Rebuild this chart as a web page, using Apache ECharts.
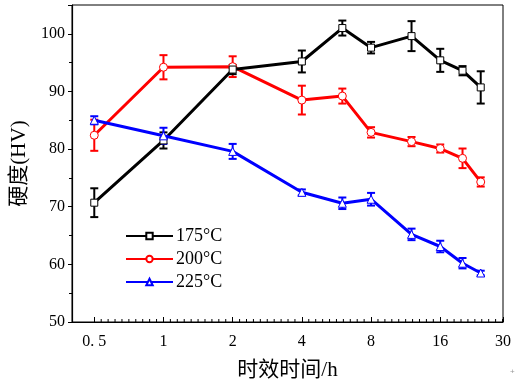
<!DOCTYPE html>
<html><head><meta charset="utf-8">
<script src="https://cdn.jsdelivr.net/npm/echarts@6/dist/echarts.min.js"></script>
<style>html,body{margin:0;padding:0;background:#fff}#c{width:518px;height:379px}</style>
</head><body><div id="c"></div>
<script>
var times = [0.5, 1, 2, 4, 6, 8, 12, 16, 20, 24];
var seriesNames = ['175°C', '200°C', '225°C'];
var hv175 = [70.7, 81.5, 93.8, 95.2, 101.0, 97.6, 99.6, 95.4, 93.6, 90.7];
var err175 = [2.5, 1.4, 0.8, 1.9, 1.3, 1.0, 2.6, 2.0, 0.8, 2.8];
var hv200 = [82.4, 94.2, 94.3, 88.5, 89.2, 82.9, 81.3, 80.1, 78.4, 74.3];
var err200 = [2.7, 2.1, 1.8, 2.5, 1.3, 0.9, 0.8, 0.7, 1.7, 0.8];
var hv225 = [85.0, 82.3, 79.6, 72.5, 70.6, 71.3, 65.2, 63.1, 60.2, 58.5];
var err225 = [0.7, 1.4, 1.3, 0.5, 1.0, 1.1, 1.0, 1.0, 0.9, 0.4];
var yTicks = [50, 60, 70, 80, 90, 100];
var xMajorTicks = [0.5, 1, 2, 4, 8, 16];
var xTickLabels = {0.5: '0. 5', 1: '1', 2: '2', 4: '4', 8: '8', 16: '16', 30: '30'};

var colors = ['#000000', '#ff0000', '#0000ff'];
var symbols = ['rect', 'circle', 'triangle'];
var vals = [hv175, hv200, hv225];
var errs = [err175, err200, err225];
var zs = [3, 2, 4];
var FONT = '"Liberation Serif", "Noto Sans CJK SC", serif';

function pairs(v) { return times.map(function (t, i) { return [t, v[i]]; }); }
function errData(v, e) { return times.map(function (t, i) { return [t, v[i] - e[i], v[i] + e[i]]; }); }

// minor tick positions: 10 equal log-steps between successive doublings (axis decoration)
var minorTickVals = [];
xMajorTicks.forEach(function (t) {
  for (var j = 1; j < 10; j++) { var v = t * Math.pow(2, j / 10); if (v < 30) minorTickVals.push([v, 50]); }
});

var series = [];
for (var k = 0; k < 3; k++) {
  (function (k) {
    series.push({
      type: 'custom', name: seriesNames[k] + ' err', z: zs[k],
      data: errData(vals[k], errs[k]),
      renderItem: function (params, api) {
        var x = api.value(0), lo = api.value(1), hi = api.value(2);
        var p1 = api.coord([x, lo]), p2 = api.coord([x, hi]);
        var w = 4;
        var st = { stroke: colors[k], lineWidth: 2 };
        return { type: 'group', children: [
          { type: 'line', shape: { x1: p1[0], y1: p1[1], x2: p2[0], y2: p2[1] }, style: st },
          { type: 'line', shape: { x1: p1[0] - w, y1: p1[1], x2: p1[0] + w, y2: p1[1] }, style: st },
          { type: 'line', shape: { x1: p2[0] - w, y1: p2[1], x2: p2[0] + w, y2: p2[1] }, style: st }
        ]};
      },
      encode: { x: 0, y: [1, 2] }
    });
    series.push({
      type: 'line', name: seriesNames[k], z: zs[k] + 1,
      data: pairs(vals[k]),
      symbol: symbols[k], symbolSize: k === 0 ? 7 : 8,
      showAllSymbol: true,
      lineStyle: { color: colors[k], width: 3 },
      itemStyle: { color: '#ffffff', borderColor: colors[k], borderWidth: 1 },
      emphasis: { disabled: true },
      animation: false
    });
  })(k);
}
series.push({
  type: 'custom', name: 'minorTicks', silent: true, z: 1,
  data: minorTickVals,
  renderItem: function (params, api) {
    var p = api.coord([api.value(0), api.value(1)]);
    return { type: 'line', shape: { x1: p[0], y1: p[1], x2: p[0], y2: p[1] - 3 }, style: { stroke: '#000', lineWidth: 1 } };
  },
  encode: { x: 0, y: 1 }
});

var chart = echarts.init(document.getElementById('c'), null, { renderer: 'canvas' });
chart.setOption({
  animation: false,
  backgroundColor: '#fff',
  color: colors,
  grid: { left: 72, right: 15, top: 5, bottom: 57, show: true, borderColor: '#000', borderWidth: 1, backgroundColor: 'transparent', containLabel: false, outerBoundsMode: 'none' },
  legend: {
    data: seriesNames,
    orient: 'vertical', left: 120, top: 222, itemWidth: 47, itemHeight: 8, itemGap: 5,
    textStyle: { fontFamily: FONT, fontSize: 18, color: '#000', padding: [0, 0, 0, -2] }
  },
  xAxis: {
    type: 'log', logBase: 2, min: 0.4, max: 30,
    name: '时效时间/h', nameLocation: 'middle', nameGap: 38,
    nameTextStyle: { fontFamily: FONT, fontSize: 21, color: '#000' },
    axisLine: { lineStyle: { color: '#000', width: 1.2 } },
    axisTick: { inside: true, length: 5, lineStyle: { color: '#000' } },
    splitLine: { show: false },
    axisLabel: {
      fontFamily: FONT, fontSize: 16, color: '#000', margin: 12,
      showMinLabel: false, showMaxLabel: true,
      formatter: function (v) {
        var keys = Object.keys(xTickLabels);
        for (var i = 0; i < keys.length; i++) {
          if (Math.abs(v - Number(keys[i])) < 1e-3 * Number(keys[i])) return xTickLabels[keys[i]];
        }
        return '';
      }
    }
  },
  yAxis: {
    type: 'value', min: 50, max: 105, interval: 10,
    name: '硬度(HV)', nameLocation: 'middle', nameGap: 40, nameRotate: 90,
    nameTextStyle: { fontFamily: FONT, fontSize: 21, color: '#000' },
    axisLine: { lineStyle: { color: '#000', width: 1.2 } },
    axisTick: { inside: false, length: 4, lineStyle: { color: '#000' } },
    minorTick: { show: true, splitNumber: 2, length: 3, lineStyle: { color: '#000' } },
    splitLine: { show: false },
    axisLabel: {
      fontFamily: FONT, fontSize: 16, color: '#000', margin: 7,
      showMaxLabel: false,
      formatter: function (v) { return yTicks.indexOf(v) >= 0 ? String(v) : ''; }
    }
  },
  graphic: [{ type: 'text', left: 510, top: 368, style: { text: '+', fontSize: 8, fill: '#999' } }],
  series: series
});
</script></body></html>
